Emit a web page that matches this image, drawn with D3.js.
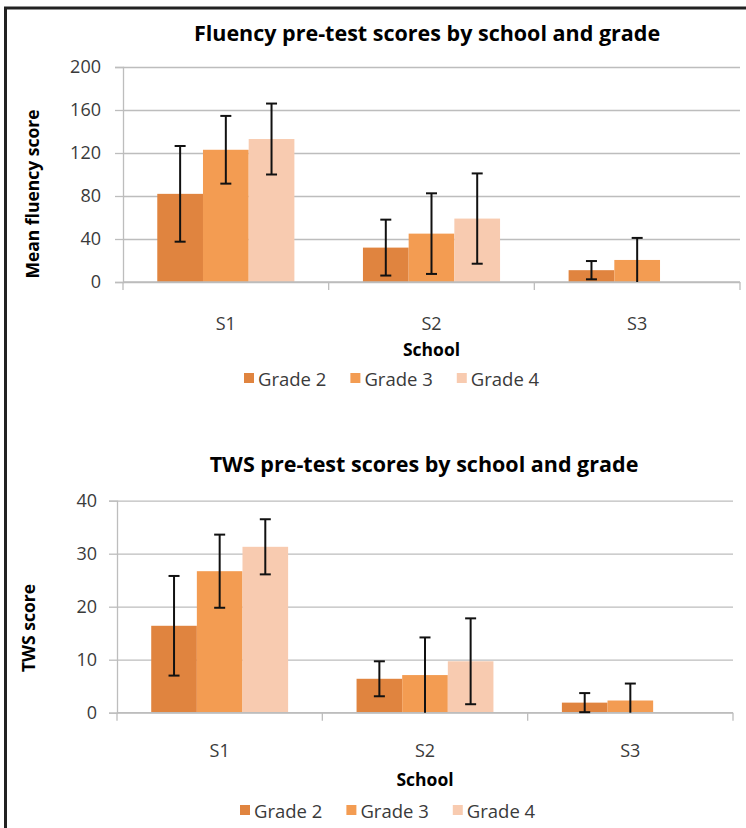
<!DOCTYPE html>
<html>
<head>
<meta charset="utf-8">
<script src="https://cdn.jsdelivr.net/npm/d3@7"></script>
<style>
  body { margin: 0; background: #fff; }
  text { font-family: 'Open Sans', 'Noto Sans', sans-serif; }
</style>
</head>
<body>
<svg id="chart" width="746" height="828"></svg>
<script>
'use strict';

// categories
const schools = ['S1', 'S2', 'S3'];
const grades = ['Grade 2', 'Grade 3', 'Grade 4'];
const gradeColors = ['#e0843f', '#f39c52', '#f8cbb0'];

// fluency means and standard deviations (null = no data)
const fluencyGrade2 = [82, 32, 11];
const fluencyGrade3 = [123, 45, 20.5];
const fluencyGrade4 = [133, 59, null];
const fluencySdGrade2 = [44.5, 26, 8.5];
const fluencySdGrade3 = [31.5, 37.5, 20.5];
const fluencySdGrade4 = [33, 42, null];
const fluencyTicks = [0, 40, 80, 120, 160, 200];

// TWS means and standard deviations
const twsGrade2 = [16.4, 6.4, 1.9];
const twsGrade3 = [26.7, 7.1, 2.3];
const twsGrade4 = [31.3, 9.7, null];
const twsSdGrade2 = [9.4, 3.3, 1.8];
const twsSdGrade3 = [6.9, 7.1, 3.2];
const twsSdGrade4 = [5.2, 8.1, null];
const twsTicks = [0, 10, 20, 30, 40];

const svg = d3.select('#chart');

// outer frame (left and top edges only are visible)
svg.append('path')
    .attr('d', 'M5.5,828V8H746')
    .attr('fill', 'none')
    .attr('stroke', '#222')
    .attr('stroke-width', 3);

/**
 * draw one grouped bar chart with error bars
 */
function drawChart(cfg) {
  const g = svg.append('g');
  const [x0, x1] = cfg.xRange;
  const [yTop, yBottom] = cfg.yRange;

  const x = d3.scaleBand().domain(schools).range([x0, x1]);
  const xInner = d3.scaleBand().domain(grades).range([0, x.bandwidth()])
      .paddingInner(0).paddingOuter(0.75);
  const y = d3.scaleLinear().domain([0, d3.max(cfg.ticks)]).range([yBottom, yTop]);

  // gridlines
  g.append('g')
      .attr('transform', 'translate(' + x0 + ',0)')
      .call(d3.axisLeft(y).tickValues(cfg.ticks).tickSize(-(x1 - x0)).tickFormat(''))
      .call((s) => s.select('.domain').remove())
      .call((s) => s.selectAll('line').attr('stroke', '#bdbdbd').attr('stroke-width', 1.3));

  // y axis
  g.append('g')
      .attr('transform', 'translate(' + x0 + ',0)')
      .call(d3.axisLeft(y).tickValues(cfg.ticks).tickSize(8).tickPadding(cfg.tickPad))
      .call((s) => s.select('.domain').attr('stroke', '#bdbdbd').attr('stroke-width', 1.3))
      .call((s) => s.selectAll('line').attr('stroke', '#bdbdbd').attr('stroke-width', 1.3))
      .call((s) => s.selectAll('text')
          .attr('fill', '#3a3a3a')
          .style('font-size', '18px')
          .style('font-family', "'Open Sans', sans-serif"));

  // bars
  const series = grades.map((gr, i) => ({
    grade: gr,
    color: gradeColors[i],
    values: cfg.means[i],
    sds: cfg.sds[i]
  }));

  const groups = g.selectAll('g.series')
      .data(series)
      .enter().append('g')
      .attr('class', 'series');

  groups.selectAll('rect')
      .data((d) => schools.map((s, j) => ({school: s, grade: d.grade, color: d.color, v: d.values[j], sd: d.sds[j]}))
          .filter((d) => d.v !== null))
      .enter().append('rect')
      .attr('x', (d) => x(d.school) + xInner(d.grade))
      .attr('y', (d) => y(d.v))
      .attr('width', xInner.bandwidth())
      .attr('height', (d) => y(0) - y(d.v))
      .attr('fill', (d) => d.color);

  // x axis line and category ticks
  g.append('line')
      .attr('x1', x0).attr('x2', x1)
      .attr('y1', yBottom).attr('y2', yBottom)
      .attr('stroke', '#bdbdbd').attr('stroke-width', 1.3);
  g.selectAll('line.xtick')
      .data(schools.map((s) => x(s)).concat([x1]))
      .enter().append('line')
      .attr('class', 'xtick')
      .attr('x1', (d) => d).attr('x2', (d) => d)
      .attr('y1', yBottom).attr('y2', yBottom + 8)
      .attr('stroke', '#bdbdbd').attr('stroke-width', 1.3);

  // error bars
  const errs = g.append('g');
  series.forEach((sr) => {
    schools.forEach((s, j) => {
      const v = sr.values[j];
      const sd = sr.sds[j];
      if (v === null) return;
      const cx = x(s) + xInner(sr.grade) + xInner.bandwidth() / 2;
      const hi = y(Math.min(d3.max(cfg.ticks), v + sd));
      const lo = y(Math.max(0, v - sd));
      errs.append('line')
          .attr('x1', cx).attr('x2', cx).attr('y1', hi).attr('y2', lo)
          .attr('stroke', '#111').attr('stroke-width', 2);
      errs.append('line')
          .attr('x1', cx - 5.5).attr('x2', cx + 5.5).attr('y1', hi).attr('y2', hi)
          .attr('stroke', '#111').attr('stroke-width', 2);
      if (v - sd > 0) {
        errs.append('line')
            .attr('x1', cx - 5.5).attr('x2', cx + 5.5).attr('y1', lo).attr('y2', lo)
            .attr('stroke', '#111').attr('stroke-width', 2);
      }
    });
  });

  // category labels
  g.selectAll('text.cat')
      .data(schools)
      .enter().append('text')
      .attr('class', 'cat')
      .attr('x', (d) => x(d) + x.bandwidth() / 2)
      .attr('y', cfg.catY)
      .attr('text-anchor', 'middle')
      .attr('dominant-baseline', 'central')
      .attr('fill', '#3a3a3a')
      .style('font-size', '18px')
      .text((d) => d);

  // titles
  g.append('text')
      .attr('x', cfg.titleX)
      .attr('y', cfg.titleY)
      .attr('text-anchor', 'middle')
      .style('font-size', '21.5px')
      .style('font-weight', 'bold')
      .attr('fill', '#000')
      .text(cfg.title);
  g.append('text')
      .attr('x', (x0 + x1) / 2)
      .attr('y', cfg.xTitleY)
      .attr('text-anchor', 'middle')
      .attr('dominant-baseline', 'central')
      .style('font-size', '17.5px')
      .style('font-weight', 'bold')
      .attr('fill', '#000')
      .text('School');
  g.append('text')
      .attr('transform', 'translate(' + cfg.yTitlePos[0] + ',' + cfg.yTitlePos[1] + ') rotate(-90)')
      .attr('text-anchor', 'middle')
      .attr('dominant-baseline', 'central')
      .style('font-size', '17.5px')
      .style('font-weight', 'bold')
      .attr('fill', '#000')
      .text(cfg.yTitle);

  // legend
  const legend = g.append('g');
  let lx = cfg.legendX;
  grades.forEach((gr, i) => {
    legend.append('rect')
        .attr('x', lx).attr('y', cfg.legendY - 5)
        .attr('width', 10).attr('height', 10)
        .attr('fill', gradeColors[i]);
    const t = legend.append('text')
        .attr('x', lx + 14)
        .attr('y', cfg.legendY)
        .attr('dominant-baseline', 'central')
        .attr('fill', '#3a3a3a')
        .style('font-size', '18.5px')
        .text(gr);
    lx += 14 + t.node().getComputedTextLength() + 24;
  });
}

drawChart({
  title: 'Fluency pre-test scores by school and grade',
  yTitle: 'Mean fluency score',
  means: [fluencyGrade2, fluencyGrade3, fluencyGrade4],
  sds: [fluencySdGrade2, fluencySdGrade3, fluencySdGrade4],
  ticks: fluencyTicks,
  xRange: [123, 740],
  yRange: [67, 282],
  tickPad: 14,
  titleX: 427,
  titleY: 41,
  yTitlePos: [32, 194],
  catY: 323,
  xTitleY: 349,
  legendX: 244,
  legendY: 378
});

drawChart({
  title: 'TWS pre-test scores by school and grade',
  yTitle: 'TWS score',
  means: [twsGrade2, twsGrade3, twsGrade4],
  sds: [twsSdGrade2, twsSdGrade3, twsSdGrade4],
  ticks: twsTicks,
  xRange: [117, 733],
  yRange: [500.7, 712.7],
  tickPad: 12,
  titleX: 424,
  titleY: 472,
  yTitlePos: [28, 628],
  catY: 750,
  xTitleY: 779,
  legendX: 240,
  legendY: 810
});
</script>
</body>
</html>
